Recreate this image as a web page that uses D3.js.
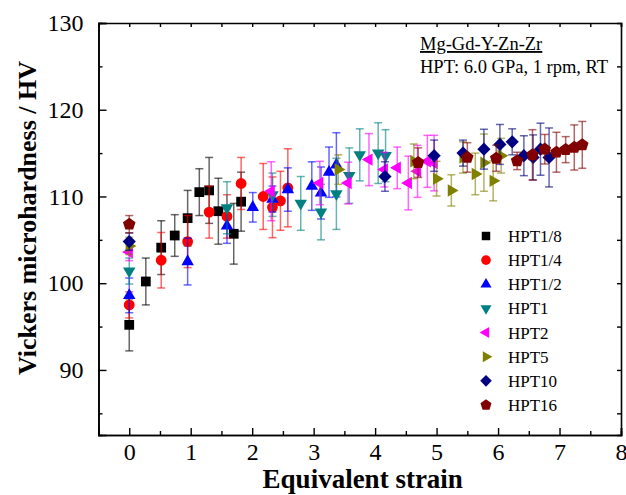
<!DOCTYPE html>
<html>
<head>
    <meta charset="utf-8">
    <title></title>
    <script src="https://d3js.org/d3.v7.min.js"></script>
    <style>
        html, body { margin: 0; padding: 0; background: white; }
        text { font-family: "Liberation Serif", "Times New Roman", serif; }
    </style>
</head>
<body>
    <div id="chart"></div>
    <script>
        // series names and colours
        const seriesNames = ["HPT1/8", "HPT1/4", "HPT1/2", "HPT1", "HPT2", "HPT5", "HPT10", "HPT16"];
        const seriesColors = ["#000000", "#ff0000", "#0000ff", "#008080", "#ff00ff", "#808000", "#000080", "#800000"];

        // data: equivalent strain, hardness (HV), error
        const hpt18Strain = [0, 0.27, 0.52, 0.74, 0.95, 1.14, 1.30, 1.45, 1.70, 1.82];
        const hpt18Hv = [95.2, 100.2, 104.1, 105.5, 107.5, 110.5, 110.7, 108.3, 105.7, 109.4];
        const hpt18Err = [3.0, 2.7, 3.1, 2.4, 3.2, 2.7, 3.8, 3.8, 3.5, 3.4];

        const hpt14Strain = [0, 0.52, 0.95, 1.30, 1.59, 1.82, 2.18, 2.33, 2.46, 2.58];
        const hpt14Hv = [97.5, 102.65, 104.8, 108.2, 107.7, 111.5, 110.0, 108.75, 109.5, 111.0];
        const hpt14Err = [1.5, 3.2, 3.0, 3.0, 2.5, 3.0, 3.8, 3.5, 3.4, 4.5];

        const hpt12Strain = [0, 0.95, 1.59, 2.01, 2.33, 2.58, 2.97, 3.12, 3.25, 3.37];
        const hpt12Hv = [98.6, 102.5, 106.6, 108.75, 109.7, 110.8, 111.2, 110.4, 112.8, 113.65];
        const hpt12Err = [2.0, 2.7, 2.0, 1.7, 1.5, 2.5, 2.8, 3.0, 2.9, 3.7];

        const hpt1Strain = [0, 1.59, 2.33, 2.79, 3.12, 3.37, 3.58, 3.75, 4.05, 4.17];
        const hpt1Hv = [101.4, 108.7, 110.2, 109.2, 108.2, 110.3, 112.4, 114.8, 115.0, 114.7];
        const hpt1Err = [1.5, 3.0, 2.5, 3.1, 3.2, 4.1, 3.2, 3.0, 3.5, 3.0];

        const hpt2Strain = [0, 2.31, 3.10, 3.56, 3.90, 4.15, 4.36, 4.54, 4.69, 4.85, 4.96];
        const hpt2Hv = [103.6, 110.6, 111.55, 111.55, 114.25, 113.1, 113.3, 111.55, 112.9, 114.05, 113.85];
        const hpt2Err = [1.0, 3.4, 2.5, 2.4, 3.0, 2.0, 2.4, 3.1, 3.0, 3.0, 3.2];

        const hpt5Strain = [0, 3.40, 4.63, 5.00, 5.24, 5.43, 5.63, 5.77, 5.92, 6.05];
        const hpt5Hv = [104.3, 113.1, 114.05, 112.05, 110.7, 114.5, 112.6, 113.9, 111.8, 114.7];
        const hpt5Err = [1.0, 1.7, 2.0, 2.0, 1.8, 1.8, 2.4, 3.3, 2.3, 2.0];

        const hpt10Strain = [0, 4.16, 4.96, 5.43, 5.77, 6.03, 6.23, 6.42, 6.57, 6.69, 6.83];
        const hpt10Hv = [104.8, 112.3, 114.7, 115.0, 115.45, 116.0, 116.3, 114.7, 114.5, 115.45, 114.5];
        const hpt10Err = [1.0, 1.7, 1.8, 1.5, 2.3, 2.3, 1.5, 2.3, 2.6, 3.0, 3.4];

        const hpt16Strain = [0, 4.70, 5.50, 5.97, 6.31, 6.56, 6.76, 6.95, 7.10, 7.24, 7.37];
        const hpt16Hv = [106.8, 113.9, 114.5, 114.4, 114.1, 114.8, 115.45, 115.1, 115.4, 115.65, 115.95];
        const hpt16Err = [1.0, 1.7, 1.7, 1.5, 1.0, 2.9, 1.7, 2.3, 1.5, 2.6, 2.7];

        const xTicks = [0, 1, 2, 3, 4, 5, 6, 7, 8];
        const yTicks = [90, 100, 110, 120, 130];

        const allStrain = [hpt18Strain, hpt14Strain, hpt12Strain, hpt1Strain, hpt2Strain, hpt5Strain, hpt10Strain, hpt16Strain];
        const allHv = [hpt18Hv, hpt14Hv, hpt12Hv, hpt1Hv, hpt2Hv, hpt5Hv, hpt10Hv, hpt16Hv];
        const allErr = [hpt18Err, hpt14Err, hpt12Err, hpt1Err, hpt2Err, hpt5Err, hpt10Err, hpt16Err];

        const series = seriesNames.map((name, i) => ({
            name: name,
            color: seriesColors[i],
            points: allStrain[i].map((s, j) => ({ x: s, y: allHv[i][j], e: allErr[i][j] }))
        }));

        // marker shapes
        const polygon = (r, n, startDeg) => {
            const pts = d3.range(n).map(k => {
                const a = (startDeg + k * 360 / n) * Math.PI / 180;
                return [r * Math.cos(a), r * Math.sin(a)];
            });
            return "M" + pts.join("L") + "Z";
        };
        const markers = [
            polygon(6.9, 4, 45),          // square
            d3.symbol(d3.symbolCircle, 92)(), // circle
            polygon(7.2, 3, -90),         // up
            polygon(7.2, 3, 90),          // down
            polygon(7.2, 3, 180),         // left
            polygon(7.2, 3, 0),           // right
            polygon(6.6, 4, 0),           // diamond
            polygon(6.6, 5, -90)          // pentagon
        ];
        const legendMarkers = [
            polygon(6.0, 4, 45),
            d3.symbol(d3.symbolCircle, 72)(),
            polygon(6.4, 3, -90),
            polygon(6.4, 3, 90),
            polygon(6.4, 3, 180),
            polygon(6.4, 3, 0),
            polygon(5.8, 4, 0),
            polygon(5.8, 5, -90)
        ];

        const W = 626, H = 495;
        const mLeft = 98.5, mRight = 621, mTop = 23, mBottom = 435;

        const svg = d3.select("#chart").append("svg")
            .attr("width", W)
            .attr("height", H);

        svg.append("rect").attr("width", W).attr("height", H).attr("fill", "white");

        const x = d3.scaleLinear().domain([-0.5, 8]).range([mLeft, mRight]);
        const y = d3.scaleLinear().domain([82.5, 130]).range([mBottom, mTop]);

        // data
        series.forEach((s, i) => {
            const g = svg.append("g");
            const bars = g.selectAll(".eb").data(s.points).enter().append("g")
                .attr("stroke", s.color)
                .attr("stroke-width", 1.5)
                .attr("stroke-opacity", 0.6);
            bars.append("line")
                .attr("x1", d => x(d.x)).attr("x2", d => x(d.x))
                .attr("y1", d => y(d.y - d.e)).attr("y2", d => y(d.y + d.e));
            bars.append("line")
                .attr("x1", d => x(d.x) - 4).attr("x2", d => x(d.x) + 4)
                .attr("y1", d => y(d.y - d.e)).attr("y2", d => y(d.y - d.e));
            bars.append("line")
                .attr("x1", d => x(d.x) - 4).attr("x2", d => x(d.x) + 4)
                .attr("y1", d => y(d.y + d.e)).attr("y2", d => y(d.y + d.e));

            g.selectAll(".pt").data(s.points).enter().append("path")
                .attr("d", markers[i])
                .attr("transform", d => `translate(${x(d.x)},${y(d.y)})`)
                .attr("fill", s.color);
        });

        // axes
        const axisStyle = g => {
            g.select(".domain").attr("stroke-width", 1.6);
            g.selectAll(".tick line").attr("stroke-width", 1.4);
            g.selectAll("text")
                .style("font-family", "Liberation Serif, serif")
                .style("font-size", "24px")
                .attr("fill", "black");
        };

        svg.append("g")
            .attr("transform", `translate(0,${mBottom})`)
            .call(d3.axisBottom(x).tickValues(xTicks).tickSize(-7).tickPadding(8).tickFormat(d3.format("d")))
            .call(axisStyle);
        svg.append("g")
            .attr("transform", `translate(0,${mBottom})`)
            .call(d3.axisBottom(x).tickValues(d3.range(0.5, 8, 1)).tickSize(-4).tickFormat(""))
            .call(axisStyle);
        svg.append("g")
            .attr("transform", `translate(0,${mTop})`)
            .call(d3.axisTop(x).tickValues(d3.range(0, 8.01, 0.5)).tickSize(-4).tickFormat(""))
            .call(axisStyle);

        svg.append("g")
            .attr("transform", `translate(${mLeft},0)`)
            .call(d3.axisLeft(y).tickValues(yTicks).tickSize(-8).tickPadding(15).tickFormat(d3.format("d")))
            .call(axisStyle);
        svg.append("g")
            .attr("transform", `translate(${mLeft},0)`)
            .call(d3.axisLeft(y).tickValues([85, 95, 105, 115, 125]).tickSize(-4).tickFormat(""))
            .call(axisStyle);
        svg.append("g")
            .attr("transform", `translate(${mRight},0)`)
            .call(d3.axisRight(y).tickValues(d3.range(85, 130, 5)).tickSize(-4).tickFormat(""))
            .call(axisStyle);

        // axis titles
        svg.append("text")
            .attr("x", (mLeft + mRight) / 2 + 3)
            .attr("y", 488)
            .attr("text-anchor", "middle")
            .style("font-size", "27px")
            .style("font-weight", "bold")
            .text("Equivalent strain");

        svg.append("text")
            .attr("transform", "translate(36,218) rotate(-90)")
            .attr("text-anchor", "middle")
            .style("font-size", "26px")
            .style("font-weight", "bold")
            .text("Vickers microhardness / HV");

        // annotation
        svg.append("text")
            .attr("x", 420).attr("y", 50)
            .style("font-size", "18.5px")
            .style("text-decoration", "underline")
            .text("Mg-Gd-Y-Zn-Zr");
        svg.append("text")
            .attr("x", 420).attr("y", 73)
            .style("font-size", "18.5px")
            .text("HPT: 6.0 GPa, 1 rpm, RT");

        // legend
        const legend = svg.append("g");
        const ly = d3.scalePoint().domain(seriesNames).range([236, 405]);
        seriesNames.forEach((name, i) => {
            legend.append("path")
                .attr("d", legendMarkers[i])
                .attr("transform", `translate(486,${ly(name)})`)
                .attr("fill", seriesColors[i]);
            legend.append("text")
                .attr("x", 508)
                .attr("y", ly(name))
                .attr("dy", "0.35em")
                .style("font-size", "17px")
                .text(name);
        });
    </script>
</body>
</html>
